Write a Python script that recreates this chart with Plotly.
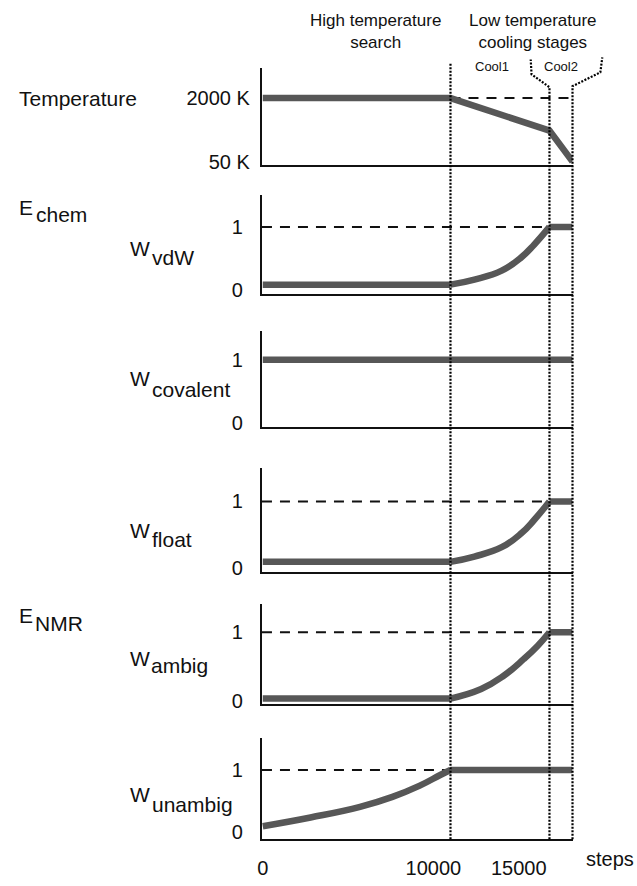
import plotly.graph_objects as go

W_PX, H_PX = 637, 886

# ---------------- data (x in MD steps) ----------------
HT_END = 11000        # end of high temperature search
COOL1_END = 16800     # end of Cool1
RUN_END = 18150       # end of Cool2
X_RANGE = [-47, 18150]

X_TICKS = [0, 10000, 15000]
X_TICKTEXT = ["0", "10000", "15000"]

TEMP_X = [0, HT_END, COOL1_END, RUN_END]
TEMP_Y = [2000, 2000, 1000, 50]
TEMP_TICKS = [2000, 50]
TEMP_TICKTEXT = ["2000 K", "50 K"]

W_TICKS = [0, 1]
W_TICKTEXT = ["0", "1"]

VDW_X = [0, HT_END, 12400, 14000, 15150, 15900, COOL1_END, RUN_END]
VDW_Y = [0.09, 0.09, 0.17, 0.31, 0.52, 0.72, 1.0, 1.0]

COV_X = [0, RUN_END]
COV_Y = [1.0, 1.0]

FLOAT_X = [0, HT_END, 12400, 14000, 15150, 15900, COOL1_END, RUN_END]
FLOAT_Y = [0.09, 0.09, 0.17, 0.31, 0.52, 0.72, 1.0, 1.0]

AMBIG_X = [0, HT_END, 12800, 14100, 15300, 16100, COOL1_END, RUN_END]
AMBIG_Y = [0.03, 0.03, 0.17, 0.36, 0.61, 0.80, 1.0, 1.0]

UNAMBIG_X = [0, 2800, 5700, 7600, 9200, 10400, HT_END, RUN_END]
UNAMBIG_Y = [0.10, 0.24, 0.41, 0.57, 0.75, 0.92, 1.0, 1.0]

# ---------------- styling ----------------
FONT = "Liberation Sans, Arial, Helvetica, sans-serif"
CURVE = "#575757"
INK = "#111111"
XD = [259 / W_PX, 572 / W_PX]

panels = [
    dict(x=TEMP_X, y=TEMP_Y, spline=None, top=69, base=167, yr=[-72, 2914],
         tv=TEMP_TICKS, tt=TEMP_TICKTEXT, ref=(2000, HT_END, RUN_END), tl=6),
    dict(x=VDW_X, y=VDW_Y, spline=(1, 6), top=197, base=297, yr=[-0.0625, 1.5],
         tv=W_TICKS, tt=W_TICKTEXT, ref=(1, X_RANGE[0], COOL1_END), tl=13),
    dict(x=COV_X, y=COV_Y, spline=None, top=334, base=431, yr=[-0.0625, 1.453],
         tv=W_TICKS, tt=W_TICKTEXT, ref=None, tl=13),
    dict(x=FLOAT_X, y=FLOAT_Y, spline=(1, 6), top=472, base=577, yr=[-0.06, 1.507],
         tv=W_TICKS, tt=W_TICKTEXT, ref=(1, X_RANGE[0], COOL1_END), tl=13),
    dict(x=AMBIG_X, y=AMBIG_Y, spline=(1, 6), top=610, base=710, yr=[-0.043, 1.406],
         tv=W_TICKS, tt=W_TICKTEXT, ref=(1, X_RANGE[0], COOL1_END), tl=13),
    dict(x=UNAMBIG_X, y=UNAMBIG_Y, spline=(0, 6), top=745, base=847, yr=[-0.111, 1.508],
         tv=W_TICKS, tt=W_TICKTEXT, ref=(1, X_RANGE[0], HT_END), tl=13),
]

fig = go.Figure()
layout = dict(
    width=W_PX, height=H_PX, margin=dict(l=0, r=0, t=0, b=0),
    paper_bgcolor="white", plot_bgcolor="rgba(0,0,0,0)", showlegend=False,
    font=dict(family=FONT, size=20, color=INK),
)

n = len(panels)
for i, p in enumerate(panels, start=1):
    xa, ya = f"x{i}", f"y{i}"
    line = dict(color=CURVE, width=6.5)
    # reference dashed line
    if p["ref"] is not None:
        v, x0, x1 = p["ref"]
        fig.add_trace(go.Scatter(x=[x0, x1], y=[v, v], mode="lines", xaxis=xa, yaxis=ya,
                                 line=dict(color=INK, width=2, dash="10px,8px"),
                                 hoverinfo="skip", cliponaxis=False))
    xs, ys = p["x"], p["y"]
    if p["spline"] is None:
        fig.add_trace(go.Scatter(x=xs, y=ys, mode="lines", xaxis=xa, yaxis=ya, line=line,
                                 hoverinfo="skip", cliponaxis=False))
    else:
        a, b = p["spline"]
        if a > 0:
            fig.add_trace(go.Scatter(x=xs[:a + 1], y=ys[:a + 1], mode="lines", xaxis=xa, yaxis=ya,
                                     line=line, hoverinfo="skip", cliponaxis=False))
        fig.add_trace(go.Scatter(x=xs[a:b + 1], y=ys[a:b + 1], mode="lines", xaxis=xa, yaxis=ya,
                                 line=dict(color=CURVE, width=6.5, shape="spline", smoothing=1.3),
                                 hoverinfo="skip", cliponaxis=False))
        fig.add_trace(go.Scatter(x=xs[b:], y=ys[b:], mode="lines", xaxis=xa, yaxis=ya,
                                 line=line, hoverinfo="skip", cliponaxis=False))

    last = i == n
    layout[f"xaxis{i}"] = dict(
        domain=XD, range=X_RANGE, anchor=ya, showline=True, linecolor=INK, linewidth=2.2,
        showgrid=False, zeroline=False, fixedrange=True,
        tickvals=X_TICKS if last else [], ticktext=X_TICKTEXT if last else [],
        showticklabels=last, ticks="outside" if last else "", ticklen=10,
        tickcolor="rgba(0,0,0,0)", tickfont=dict(size=20),
    )
    layout[f"yaxis{i}"] = dict(
        domain=[1 - p["base"] / H_PX, 1 - p["top"] / H_PX], range=p["yr"], anchor=xa,
        showline=True, linecolor=INK, linewidth=2.2, showgrid=False, zeroline=False,
        tickvals=p["tv"], ticktext=p["tt"], ticks="outside", ticklen=p["tl"],
        tickcolor="rgba(0,0,0,0)", tickfont=dict(size=20), fixedrange=True,
    )

# overlay axes (full figure) sharing the same step scale for the phase boundaries
k = (X_RANGE[1] - X_RANGE[0]) / (XD[1] - XD[0])
R0 = X_RANGE[0] - XD[0] * k
R1 = X_RANGE[0] + (1 - XD[0]) * k
layout["xaxis7"] = dict(domain=[0, 1], range=[R0, R1], anchor="y7", visible=False, fixedrange=True)
layout["yaxis7"] = dict(domain=[0, 1], range=[H_PX, 0], anchor="x7", visible=False, fixedrange=True)

dot = dict(color="#000000", width=2.2, dash="2px,1.5px")
boundaries = [
    ([HT_END, HT_END], [847, 63]),
    ([COOL1_END, COOL1_END, COOL1_END - 1050, COOL1_END - 1100], [847, 88, 75, 60]),
    ([RUN_END, RUN_END, RUN_END + 1630, RUN_END + 1745], [847, 87, 73, 58]),
]
for bx, by in boundaries:
    fig.add_trace(go.Scatter(x=bx, y=by, mode="lines", xaxis="x7", yaxis="y7", line=dot,
                             hoverinfo="skip", cliponaxis=False))


def ann(text, px, py, size=20, xanchor="left", align="left"):
    return dict(text=text, x=px / W_PX, y=1 - py / H_PX, xref="paper", yref="paper",
                showarrow=False, xanchor=xanchor, yanchor="middle", align=align,
                font=dict(family=FONT, size=size, color=INK))


annotations = [
    ann("High temperature<br>search", 373, 32, size=17, xanchor="center", align="center"),
    ann("Low temperature<br>cooling stages", 532, 32, size=17, xanchor="center", align="center"),
    ann("Cool1", 491, 67, size=13, xanchor="center"),
    ann("Cool2", 560, 67, size=13, xanchor="center"),
    ann("Temperature", 12, 99, size=21),
    ann("E", 12, 209, size=21), ann("chem", 29, 216, size=21),
    ann("W", 124, 251, size=21), ann("vdW", 146, 260, size=21),
    ann("W", 124, 382, size=21), ann("covalent", 146, 393, size=21),
    ann("W", 124, 535, size=21), ann("float", 146, 544, size=21),
    ann("E", 12, 621, size=21), ann("NMR", 28, 629, size=21),
    ann("W", 124, 664, size=21), ann("ambig", 145, 672, size=21),
    ann("W", 124, 802, size=21), ann("unambig", 146, 812, size=21),
    ann("steps", 610, 867, size=20, xanchor="center"),
]
layout["annotations"] = annotations

fig.update_layout(**layout)
fig.write_html("out.html")
